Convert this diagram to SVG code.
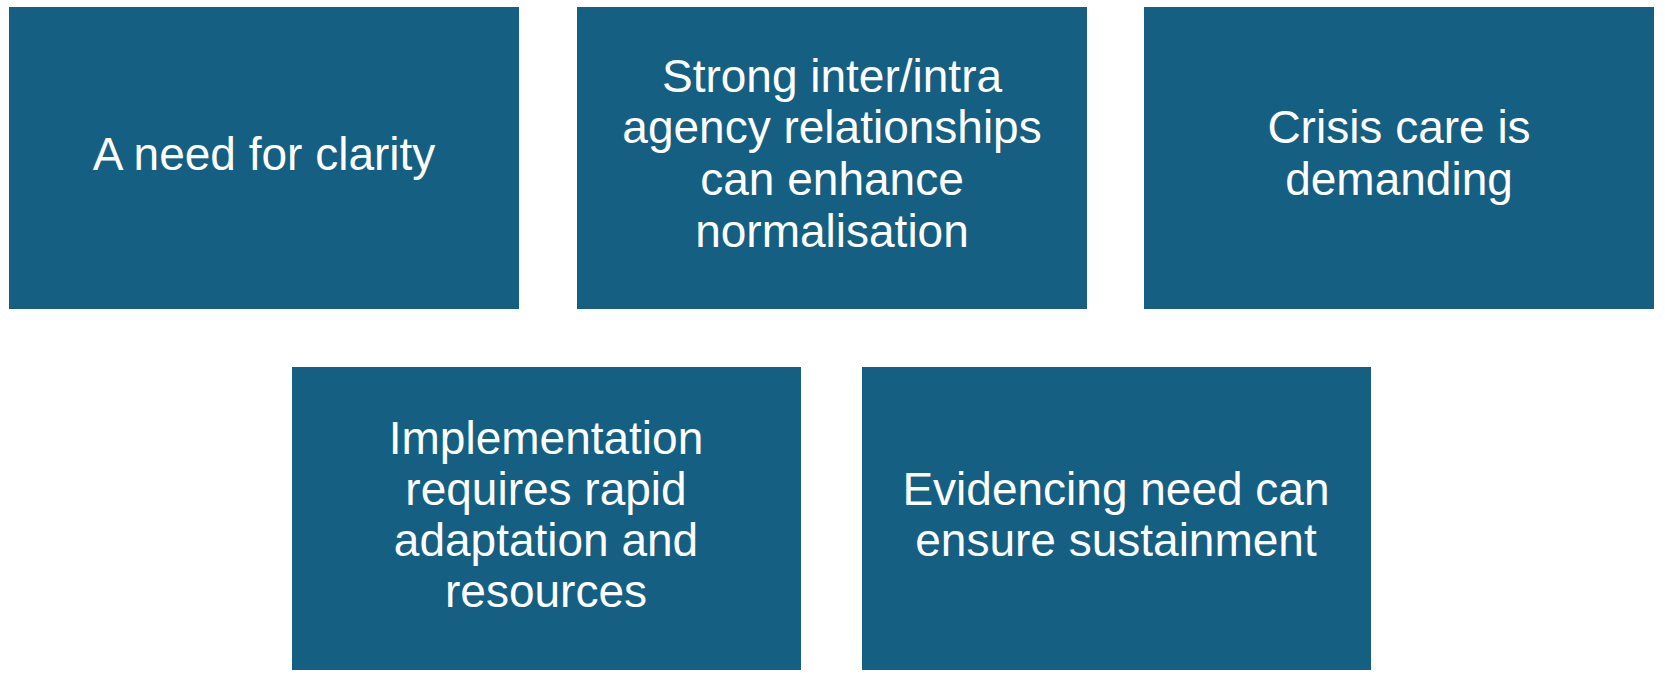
<svg xmlns="http://www.w3.org/2000/svg" width="1665" height="677" viewBox="0 0 1665 677">
<style>
.box{fill:#156082;}
.lbl{fill:#ffffff;font-family:"Liberation Sans",Arial,sans-serif;font-size:46px;text-anchor:middle;}
</style>
<rect width="1665" height="677" fill="#ffffff"/>
<g id="connectors"></g>
<g id="node1">
<rect class="box" x="9" y="7" width="510" height="302"/>
<text class="lbl" x="264" y="170">A need for clarity</text>
</g>
<g id="node2">
<rect class="box" x="577" y="7" width="510" height="302"/>
<text class="lbl" x="832" y="92">Strong inter/intra</text>
<text class="lbl" x="832" y="143">agency relationships</text>
<text class="lbl" x="832" y="195">can enhance</text>
<text class="lbl" x="832" y="247">normalisation</text>
</g>
<g id="node3">
<rect class="box" x="1144" y="7" width="510" height="302"/>
<text class="lbl" x="1399" y="143">Crisis care is</text>
<text class="lbl" x="1399" y="195">demanding</text>
</g>
<g id="node4">
<rect class="box" x="292" y="367" width="509" height="303"/>
<text class="lbl" x="546" y="454">Implementation</text>
<text class="lbl" x="546" y="505">requires rapid</text>
<text class="lbl" x="546" y="556">adaptation and</text>
<text class="lbl" x="546" y="607">resources</text>
</g>
<g id="node5">
<rect class="box" x="862" y="367" width="509" height="303"/>
<text class="lbl" x="1116" y="505">Evidencing need can</text>
<text class="lbl" x="1116" y="556">ensure sustainment</text>
</g>
</svg>
